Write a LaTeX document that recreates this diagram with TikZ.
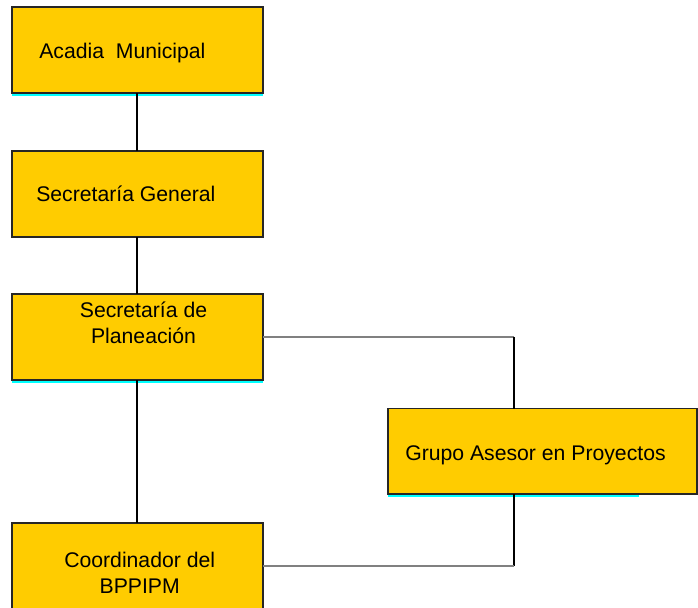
\documentclass[tikz,border=0pt]{standalone}
\usepackage{fontspec}
\setmainfont{Liberation Sans}
\definecolor{boxfill}{HTML}{FFCC00}
\definecolor{boxedge}{HTML}{262626}
\definecolor{shade}{HTML}{00FFFF}
\definecolor{linkgray}{HTML}{808080}
\begin{document}
\begin{tikzpicture}[x=0.75pt,y=-0.75pt,
  orgbox/.style={draw=boxedge,fill=boxfill,line width=0.8pt},
  shadeline/.style={draw=shade,line width=2.2pt},
  label/.style={font=\fontsize{15.9}{18.9}\selectfont,inner sep=0pt,align=center},
  vlink/.style={draw=black,line width=0.8pt},
  hlink/.style={draw=linkgray,line width=1.3pt}]
\useasboundingbox[fill=white] (0,0) rectangle (698,607);

% boxes
\coordinate (acadiaNW) at (12,7);
\coordinate (acadiaSE) at (263,93);
\draw[shadeline] (12,94.5) -- (263,94.5);
\draw[orgbox] (acadiaNW) rectangle (acadiaSE);
\coordinate (acadiaS) at (137,93);

\coordinate (genN) at (137,151);
\coordinate (genS) at (137,237);
\draw[orgbox] (12,151) rectangle (263,237);

\coordinate (planN) at (137,294);
\coordinate (planS) at (137,380);
\coordinate (planE) at (263,337);
\draw[shadeline] (12,381.5) -- (263,381.5);
\draw[orgbox] (12,294) rectangle (263,380);

\coordinate (grupoN) at (514,408.5);
\coordinate (grupoS) at (514,494);
\draw[shadeline] (388,495.5) -- (639,495.5);
\draw[orgbox] (388,408.5) rectangle (697,494);

\coordinate (coordN) at (137,523);
\coordinate (coordE) at (263,566);
\draw[orgbox] (12,523) rectangle (263,640);

% texts (two-line labels sit on the baseline of their last line)
\node[label,anchor=base west] (tAcadia) at (39,58) {Acadia\ \ Municipal};
\node[label,anchor=base west] (tGeneral) at (36,201) {Secretaría General};
\node[label,anchor=base] (tPlan) at (143.5,343) {Secretaría de\\Planeación};
\node[label,anchor=base west] (tGrupo) at (405,460) {Grupo Asesor en Proyectos};
\node[label,anchor=base] (tCoord) at (139.7,593) {Coordinador del\\BPPIPM};

% connectors
\draw[vlink] (acadiaS) -- (genN);
\draw[vlink] (genS) -- (planN);
\draw[vlink] (planS) -- (coordN);
\draw[hlink] (planE) -- (grupoN |- planE);
\draw[vlink] (grupoN |- planE) -- (grupoN);
\draw[vlink] (grupoS) -- (grupoS |- coordE);
\draw[hlink] (grupoS |- coordE) -- (coordE);
\end{tikzpicture}
\end{document}
